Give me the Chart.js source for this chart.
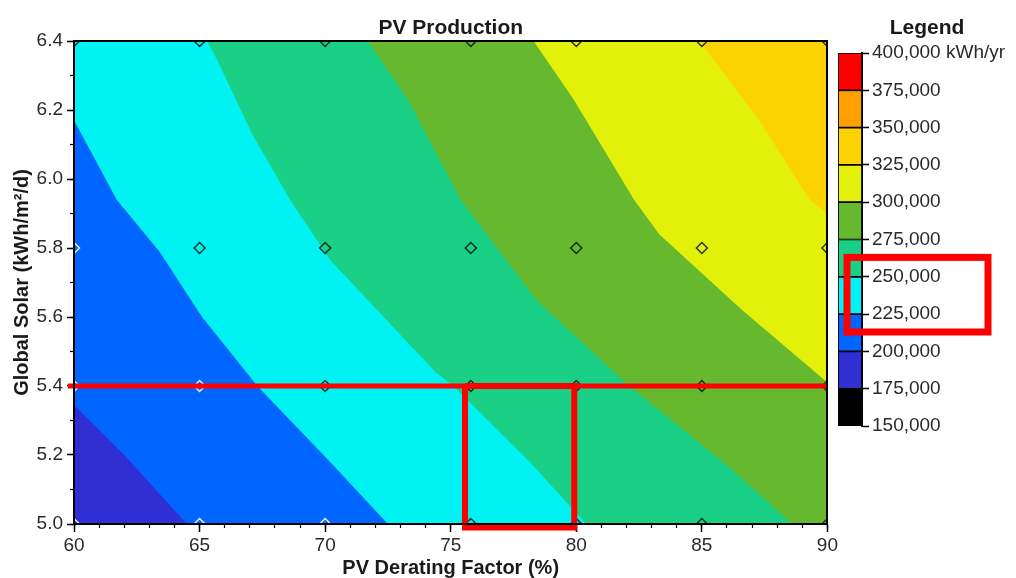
<!DOCTYPE html>
<html>
<head>
<meta charset="utf-8">
<title>PV Production</title>
<script src="https://cdn.jsdelivr.net/npm/chart.js@4.4.1/dist/chart.umd.min.js"></script>
<style>
  body { margin: 0; background: #fff; }
  #wrap { position: relative; width: 1016px; height: 578px; overflow: hidden; }
  #plotChart { position: absolute; left: 0; top: 0; }
  #legendChart { position: absolute; left: 836px; top: 0; }
</style>
</head>
<body>
<div id="wrap">
  <canvas id="plotChart" width="840" height="578"></canvas>
  <canvas id="legendChart" width="180" height="578"></canvas>
</div>
<script>
// grid of simulated cases (diamond markers)
const deratingGrid = [60, 65, 70, 75.8, 80, 85, 90];
const solarGrid = [5.0, 5.4, 5.8, 6.4];
const lightMarkers = [[60, 5.0], [60, 5.4], [60, 5.8], [65, 5.0], [65, 5.4], [70, 5.0]];

// legend bands
const legendLevels = [150000, 175000, 200000, 225000, 250000, 275000, 300000, 325000, 350000, 375000, 400000];
const legendColors = ["#000000", "#2f2fd3", "#0066ff", "#00f2f2", "#19d086", "#66b82e", "#e2f00a", "#fcd200", "#ff9f00", "#ff0000"];
const legendUnit = "kWh/yr";

// contour edges: [derating %, solar kWh/m2/d]
const edge200 = [[60, 5.345], [62.0, 5.2], [64.5, 5.0]];
const edge225 = [[60, 6.17], [61.7, 5.94], [63.4, 5.79], [65.1, 5.6], [67.3, 5.4], [70.2, 5.18], [72.5, 5.0]];
const edge250 = [[65.3, 6.4], [65.7, 6.345], [67.1, 6.13], [68.6, 5.94], [70.2, 5.765], [74.4, 5.44], [75.1, 5.4], [78.15, 5.18], [80.4, 5.0]];
const edge275 = [[71.7, 6.4], [73.3, 6.23], [75.4, 5.94], [78.4, 5.65], [82.1, 5.4], [83.3, 5.33], [86.0, 5.17], [88.6, 5.0]];
const edge300 = [[78.3, 6.4], [79.9, 6.23], [82.3, 5.94], [83.3, 5.84], [86.6, 5.62], [90, 5.41]];
const edge325 = [[84.9, 6.4], [87.2, 6.18], [89.3, 5.94], [90, 5.9]];

// red mark-up drawn over the chart
const markLine = [[59.76, 5.4], [90, 5.4]];
const markBox = [[75.57, 5.4], [75.57, 4.99], [79.92, 4.99], [79.92, 5.4], [75.57, 5.4]];
const legendMark = [263000, 213000];

const xMin = 60, xMax = 90, yMin = 5.0, yMax = 6.4;
const fontFamily = "'Liberation Sans', Arial, sans-serif";
const textColor = "#2a2a2a";
const tickFont = { family: fontFamily, size: 19 };
const titleFont = { family: fontFamily, size: 21, weight: "bold", lineHeight: 1 };
const axisTitleFont = { family: fontFamily, size: 20, weight: "bold", lineHeight: 1 };

const toXY = (pts) => pts.map((p) => ({ x: p[0], y: p[1] }));

// polygon of everything above (higher value than) an edge
function regionAbove(edge) {
  const pts = edge.slice();
  const last = edge[edge.length - 1];
  if (last[1] <= yMin) pts.push([xMax, yMin]);
  pts.push([xMax, yMax]);
  if (edge[0][0] <= xMin && edge[0][1] < yMax) pts.push([xMin, yMax]);
  return pts;
}

const bands = [
  { pts: [[xMin, yMin], [xMax, yMin], [xMax, yMax], [xMin, yMax]], color: legendColors[1] },
  { pts: regionAbove(edge200), color: legendColors[2] },
  { pts: regionAbove(edge225), color: legendColors[3] },
  { pts: regionAbove(edge250), color: legendColors[4] },
  { pts: regionAbove(edge275), color: legendColors[5] },
  { pts: regionAbove(edge300), color: legendColors[6] },
  { pts: regionAbove(edge325), color: legendColors[7] },
];

const isLight = (x, y) => lightMarkers.some((p) => p[0] === x && p[1] === y);
const darkMarkers = [];
deratingGrid.forEach((x) => {
  solarGrid.forEach((y) => {
    if (!isLight(x, y)) darkMarkers.push([x, y]);
  });
});

const bandDatasets = bands.map((b, i) => ({
  data: toXY(b.pts),
  fill: "shape",
  backgroundColor: b.color,
  borderColor: "rgba(0,0,0,0)",
  borderWidth: 0,
  pointRadius: 0,
  tension: 0,
  order: 100 - i,
}));

function markerSet(pts, color) {
  return {
    data: toXY(pts),
    showLine: false,
    pointStyle: "rectRot",
    pointRadius: 5.5,
    pointBorderWidth: 1.5,
    pointBorderColor: color,
    pointBackgroundColor: "rgba(0,0,0,0)",
    clip: 0,
    order: 10,
  };
}

function redMark(pts, width) {
  return {
    data: toXY(pts),
    borderColor: "#ff0000",
    borderWidth: width,
    borderJoinStyle: "miter",
    pointRadius: 0,
    fill: false,
    tension: 0,
    clip: false,
    order: 1,
  };
}

const hiddenFrame = (pos) => ({
  type: "linear",
  position: pos,
  min: pos === "top" ? xMin : yMin,
  max: pos === "top" ? xMax : yMax,
  ticks: { display: false },
  grid: { display: false },
  border: { color: "#000", width: 2, z: 1 },
  afterFit: (s) => {
    if (pos === "top") s.height = 0;
    else s.width = 0;
  },
});

new Chart(document.getElementById("plotChart"), {
  type: "line",
  data: {
    datasets: [
      ...bandDatasets,
      markerSet(darkMarkers, "rgba(10,20,10,0.85)"),
      markerSet(lightMarkers, "rgba(255,255,255,0.9)"),
      redMark(markLine, 5),
      redMark(markBox, 6),
    ],
  },
  options: {
    responsive: false,
    animation: false,
    events: [],
    layout: { padding: { left: 0, right: 12, top: 0, bottom: 0 } },
    plugins: {
      legend: { display: false },
      tooltip: { enabled: false },
      title: {
        display: true,
        text: "PV Production",
        fullSize: false,
        font: titleFont,
        color: "#1a1a1a",
        padding: { top: 18, bottom: 2 },
      },
    },
    scales: {
      x: {
        type: "linear",
        position: "bottom",
        weight: 1,
        min: xMin,
        max: xMax,
        ticks: { stepSize: 5, font: tickFont, color: textColor, padding: 2, autoSkip: false, maxRotation: 0 },
        grid: { drawOnChartArea: false, tickLength: 8, tickColor: "#000", tickWidth: 1.5 },
        border: { color: "#000", width: 2, z: 1 },
        title: { display: true, text: "PV Derating Factor (%)", font: axisTitleFont, color: "#1a1a1a", padding: 0 },
        afterFit: (s) => { s.height = 54; },
      },
      xMinor: {
        type: "linear",
        position: "bottom",
        weight: 0,
        min: xMin,
        max: xMax,
        ticks: { stepSize: 1, display: false },
        grid: { drawOnChartArea: false, tickLength: 4, tickColor: "#000", tickWidth: 1.2 },
        border: { display: false },
        afterFit: (s) => { s.height = 0; },
      },
      y: {
        type: "linear",
        position: "left",
        weight: 1,
        min: yMin,
        max: yMax,
        ticks: { stepSize: 0.2, font: tickFont, color: textColor, padding: 4, callback: (v) => v.toFixed(1) },
        grid: { drawOnChartArea: false, tickLength: 7, tickColor: "#000", tickWidth: 1.5 },
        border: { color: "#000", width: 2, z: 1 },
        title: { display: true, text: "Global Solar (kWh/m²/d)", font: axisTitleFont, color: "#1a1a1a", padding: { top: 12, bottom: 0 } },
        afterFit: (s) => { s.width = 74; },
      },
      yMinor: {
        type: "linear",
        position: "left",
        weight: 0,
        min: yMin,
        max: yMax,
        ticks: { stepSize: 0.1, display: false },
        grid: { drawOnChartArea: false, tickLength: 4, tickColor: "#000", tickWidth: 1.2 },
        border: { display: false },
        afterFit: (s) => { s.width = 0; },
      },
      xTop: hiddenFrame("top"),
      yRight: hiddenFrame("right"),
    },
  },
});

// red box drawn around two of the legend entries
const legendHighlight = {
  id: "legendHighlight",
  afterDraw(chart) {
    const { ctx, chartArea, scales } = chart;
    const top = scales.y.getPixelForValue(legendMark[0]);
    const bottom = scales.y.getPixelForValue(legendMark[1]);
    ctx.save();
    ctx.strokeStyle = "#ff0000";
    ctx.lineWidth = 7;
    ctx.strokeRect(chartArea.left + 9, top, 141, bottom - top);
    ctx.restore();
  },
};

new Chart(document.getElementById("legendChart"), {
  type: "bar",
  data: {
    labels: [""],
    datasets: legendColors.map((c, i) => ({
      data: [[legendLevels[i], legendLevels[i + 1]]],
      backgroundColor: c,
      borderColor: "#000",
      borderWidth: 1.2,
      borderSkipped: false,
      grouped: false,
      barPercentage: 1,
      categoryPercentage: 1,
    })),
  },
  options: {
    responsive: false,
    animation: false,
    events: [],
    layout: { padding: { left: 2, right: 0, top: 0, bottom: 152 } },
    plugins: {
      legend: { display: false },
      tooltip: { enabled: false },
      title: {
        display: true,
        text: "Legend",
        font: titleFont,
        color: "#1a1a1a",
        padding: { top: 18, bottom: 14 },
      },
    },
    scales: {
      x: { display: false },
      y: {
        position: "right",
        min: legendLevels[0],
        max: legendLevels[legendLevels.length - 1],
        ticks: {
          stepSize: 25000,
          font: tickFont,
          color: textColor,
          padding: 3,
          callback: (v) =>
            v.toLocaleString("en-US") + (v === legendLevels[legendLevels.length - 1] ? " " + legendUnit : ""),
        },
        grid: { drawOnChartArea: false, tickLength: 7, tickColor: "#000", tickWidth: 1.5 },
        border: { color: "#000", width: 2 },
        afterFit: (s) => { s.width = 154; },
      },
    },
  },
  plugins: [legendHighlight],
});
</script>
</body>
</html>
